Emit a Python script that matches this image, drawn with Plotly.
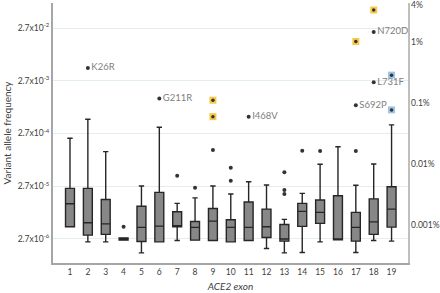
import math
import plotly.graph_objects as go

# ---------------- data ----------------
exons = list(range(1, 20))
q1 = [4.57e-6, 3.17e-6, 3.28e-6, 2.55e-6, 2.41e-6, 2.37e-6, 4.57e-6, 2.55e-6, 2.52e-6, 2.37e-6,
      2.52e-6, 2.87e-6, 2.44e-6, 4.65e-6, 5.30e-6, 2.58e-6, 2.44e-6, 3.28e-6, 4.51e-6]
median = [1.25e-5, 5.44e-6, 5.20e-6, 2.68e-6, 4.45e-6, 4.71e-6, 4.77e-6, 4.45e-6, 5.86e-6, 4.45e-6,
          4.45e-6, 4.57e-6, 2.68e-6, 8.96e-6, 8.58e-6, 2.63e-6, 4.45e-6, 5.68e-6, 9.91e-6]
q3 = [2.45e-5, 2.45e-5, 1.51e-5, 2.82e-6, 1.12e-5, 2.06e-5, 8.80e-6, 5.78e-6, 1.02e-5, 6.20e-6,
      1.35e-5, 9.91e-6, 5.07e-6, 1.27e-5, 1.47e-5, 1.77e-5, 8.58e-6, 1.55e-5, 2.63e-5]
lower = [4.57e-6, 2.37e-6, 2.37e-6, 2.55e-6, 1.46e-6, 2.37e-6, 2.52e-6, 2.55e-6, 2.52e-6, 2.37e-6,
         2.52e-6, 1.77e-6, 1.46e-6, 1.49e-6, 2.37e-6, 2.58e-6, 1.49e-6, 2.52e-6, 2.44e-6]
upper = [2.19e-4, 5.03e-4, 1.22e-4, 2.82e-6, 2.71e-5, 3.54e-4, 1.27e-5, 1.62e-5, 2.71e-5, 1.91e-5,
         3.28e-5, 2.83e-5, 6.31e-6, 1.97e-5, 7.01e-5, 1.51e-4, 2.80e-5, 7.10e-5, 3.92e-4]

# plain outliers
out_x = [4, 7, 8, 9, 10, 10, 13, 13, 13, 14, 15, 17]
out_y = [4.57e-6, 4.26e-5, 2.52e-5, 1.31e-4, 6.04e-5, 3.42e-5, 4.94e-5, 2.28e-5, 1.91e-5, 1.27e-4, 1.26e-4, 1.26e-4]

# labelled variants
lab_x = [2, 6, 11, 17, 18, 18]
lab_y = [4.74e-3, 1.24e-3, 5.63e-4, 9.27e-4, 2.27e-2, 2.54e-3]
lab_text = ["K26R", "G211R", "I468V", "S692P", "N720D", "L731F"]

# highlighted (yellow) and (blue) variants
yel_x = [9, 9, 17, 18]
yel_y = [1.155e-3, 5.63e-4, 1.50e-2, 5.94e-2]
blue_x = [19, 19]
blue_y = [3.45e-3, 7.56e-4]

# axis ticks
left_tickvals = [2.7e-6, 2.7e-5, 2.7e-4, 2.7e-3, 2.7e-2]
left_ticktext = ["2.7x10<sup>-6</sup>", "2.7x10<sup>-5</sup>", "2.7x10<sup>-4</sup>",
                 "2.7x10<sup>-3</sup>", "2.7x10<sup>-2</sup>"]
right_tickvals = [0.04, 0.01, 0.001, 0.0001, 0.00001]
right_ticktext = ["4%", "1%", "0.1%", "0.01%", "0.001%"]

FONT = "Lato"
DOT = "#333333"

fig = go.Figure()

fig.add_trace(go.Box(
    x=exons, q1=q1, median=median, q3=q3, lowerfence=lower, upperfence=upper,
    boxpoints=False, width=0.5, whiskerwidth=0.6,
    fillcolor="#878787", line=dict(color="#262626", width=1.4),
    showlegend=False, hoverinfo="skip"))

fig.add_trace(go.Scatter(x=out_x, y=out_y, mode="markers",
                         marker=dict(color=DOT, size=4), showlegend=False))

fig.add_trace(go.Scatter(x=yel_x, y=yel_y, mode="markers",
                         marker=dict(color="#F7C948", size=7, symbol="square",
                                     line=dict(width=0)), showlegend=False))
fig.add_trace(go.Scatter(x=blue_x, y=blue_y, mode="markers",
                         marker=dict(color="#9DC3E6", size=7, symbol="square",
                                     line=dict(width=0)), showlegend=False))
fig.add_trace(go.Scatter(x=yel_x + blue_x, y=yel_y + blue_y, mode="markers",
                         marker=dict(color=DOT, size=3.5), showlegend=False))

fig.add_trace(go.Scatter(x=lab_x, y=lab_y, mode="markers+text", text=lab_text,
                         textposition="middle right",
                         textfont=dict(family=FONT, size=9.5, color="#808080"),
                         marker=dict(color=DOT, size=4), showlegend=False))

# invisible trace to anchor right axis
fig.add_trace(go.Scatter(x=[None], y=[None], yaxis="y2", showlegend=False))

# right-axis labels as annotations on the secondary (log) axis scale
for v, t in zip(right_tickvals, right_ticktext):
    fig.add_annotation(x=1, xref="paper", y=math.log10(v), yref="y2", yanchor="middle",
                       text=t, showarrow=False, xanchor="left", xshift=1,
                       font=dict(family=FONT, size=8.5, color="#404040"))

fig.update_layout(
    width=440, height=293,
    margin=dict(l=53, r=32, t=3, b=30, autoexpand=False),
    paper_bgcolor="white", plot_bgcolor="white",
    font=dict(family=FONT, size=9, color="#404040"),
    xaxis=dict(range=[0.049, 19.92], tickvals=exons, ticktext=[str(e) for e in exons],
               automargin=False,
               showgrid=False, zeroline=False, showline=True, linecolor="#a6a6a6",
               linewidth=1.5, ticks="", tickfont=dict(size=8.5, color="#404040"),
               title=dict(text="<i>ACE2 exon</i>", font=dict(size=10, color="#404040"),
                          standoff=7)),
    yaxis=dict(type="log", range=[-6.027, -1.093], tickvals=left_tickvals,
               ticktext=left_ticktext, showgrid=True, gridcolor="#e4eeec",
               automargin=False,
               gridwidth=1, zeroline=False, showline=True, linecolor="#a6a6a6",
               linewidth=2, ticks="", tickfont=dict(size=8.5, color="#404040"),
               title=dict(text="Variant allele frequency",
                          font=dict(size=10, color="#404040"), standoff=4)),
    yaxis2=dict(type="log", overlaying="y", side="right", range=[-5.618, -1.361],
                showticklabels=False, showgrid=False,
                automargin=False,
                zeroline=False, showline=True, linecolor="#bfbfbf", linewidth=1.5,
                ticks=""),
)

fig.write_html("out.html", config={"displayModeBar": False},
               post_script="document.body.style.margin='0';document.body.style.overflow='hidden';")
